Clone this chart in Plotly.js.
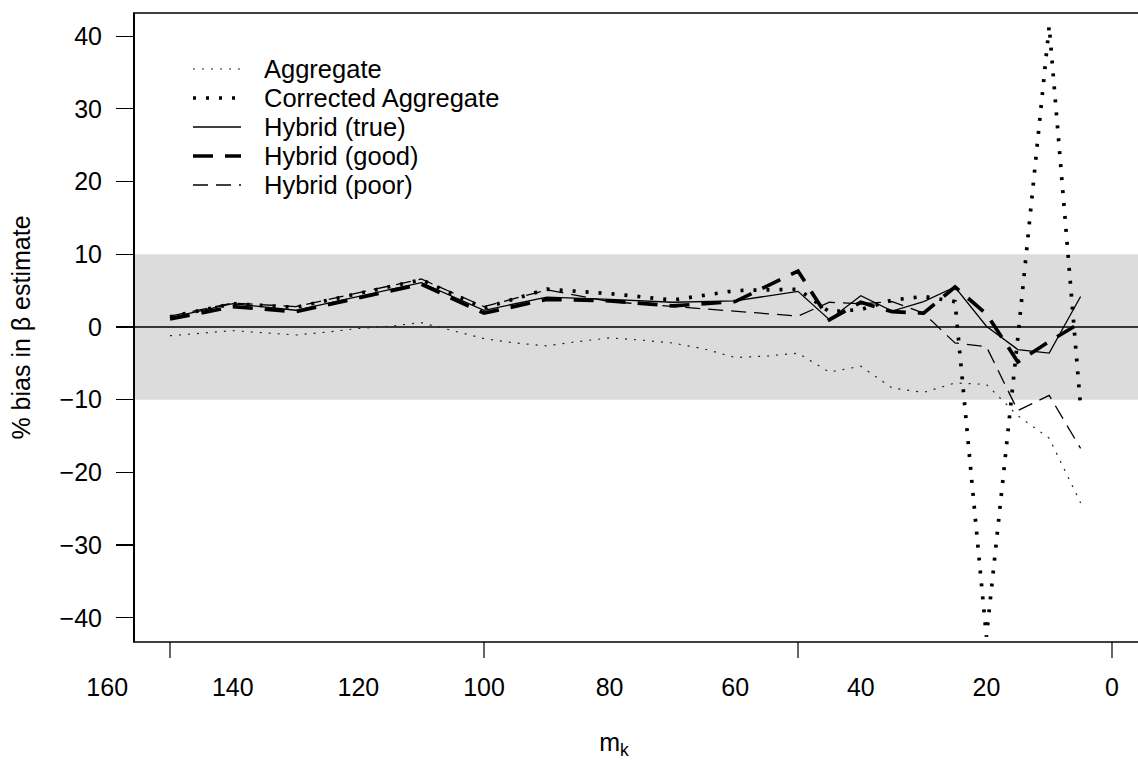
<!DOCTYPE html>
<html>
<head>
<meta charset="utf-8">
<script src="https://cdn.plot.ly/plotly-3.0.1.min.js"></script>
<style>html,body{margin:0;padding:0;background:#fff;}#chart{width:1138px;height:764px;}</style>
</head>
<body>
<div id="chart"></div>
<script>
// ---- data ----
const mk = [150,140,130,120,110,100,90,80,70,60,50,45,40,35,30,25,20,15,10,5];
const aggMk = [150,145,140,135,130,125,120,115,110,105,100,95,90,85,80,75,70,65,60,55,50,45,40,35,30,25,20,15,10,5];
const aggregate = [-1.2,-0.8,-0.5,-0.8,-1.1,-0.7,-0.2,0.1,0.6,-0.5,-1.6,-2.2,-2.6,-2.0,-1.5,-1.8,-2.2,-3.0,-4.2,-4.0,-3.6,-6.2,-5.4,-8.4,-9.0,-7.7,-7.9,-12.2,-15.3,-24.2];
const correctedAggregate = [1.4,3.2,2.7,4.6,6.5,2.6,5.2,4.6,3.7,5.0,5.2,2.1,2.4,3.7,4.2,3.5,-42.6,-1.5,41.4,-11.0];
const hybridTrue = [1.3,3.2,2.3,4.2,6.1,2.3,4.1,3.8,3.4,3.6,4.9,1.0,4.3,2.2,3.5,5.5,0.1,-3.1,-3.6,4.2];
const hybridGood = [1.1,2.8,2.1,4.0,5.9,1.9,3.8,3.6,2.9,3.5,7.7,1.0,3.4,2.1,1.9,5.5,1.8,-4.8,-2.0,0.6];
const hybridPoor = [1.5,3.3,2.8,4.7,6.6,2.8,5.1,3.5,2.8,2.2,1.5,3.4,3.2,3.5,1.9,-2.2,-2.7,-11.5,-9.4,-16.7];
const seriesNames = ["Aggregate","Corrected Aggregate","Hybrid (true)","Hybrid (good)","Hybrid (poor)"];
const yTicks = [-40,-30,-20,-10,0,10,20,30,40];
const xTickMarks = [150,100,50,0];
const xTickLabels = [160,140,120,100,80,60,40,20,0];
const bandLow = -10, bandHigh = 10;

// ---- styling / layout constants ----
const FONT = "Liberation Sans, Arial, Helvetica, sans-serif";
const FS = 25;
const W = 1138, H = 764;
const M = {l: 90, r: 0, t: 13, b: 122};
const plotW = W - M.l - M.r, plotH = H - M.t - M.b;
const px2x = p => (p - M.l) / plotW;      // page px -> paper x
const py2y = p => (H - M.b - p) / plotH;  // page px -> paper y
const plotLeft = px2x(133);

const styles = [
  {color: "#222", width: 1.2, dash: "2px,7px"},
  {color: "#000", width: 3.7, dash: "3px,10px"},
  {color: "#000", width: 1.3},
  {color: "#000", width: 3.7, dash: "20px,12px"},
  {color: "#000", width: 1.3, dash: "15px,8px"}
];
const xs = [aggMk, mk, mk, mk, mk];
const ys = [aggregate, correctedAggregate, hybridTrue, hybridGood, hybridPoor];

const traces = ys.map((y, i) => ({
  type: "scatter", mode: "lines", x: xs[i], y: y, name: seriesNames[i],
  line: styles[i], hoverinfo: "skip", showlegend: false
}));

// legend drawn in the R style (sample line + label)
const legShapes = [], legAnn = [];
seriesNames.forEach((nm, i) => {
  const yy = py2y(69 + i * 29);
  legShapes.push({type: "line", xref: "paper", yref: "paper",
    x0: px2x(193), x1: px2x(241), y0: yy, y1: yy, line: styles[i]});
  legAnn.push({xref: "paper", yref: "paper", x: px2x(262), y: yy, text: nm,
    showarrow: false, xanchor: "left", yanchor: "middle",
    font: {family: FONT, size: 25.5, color: "#000"}});
});

const tickShapes = xTickMarks.map(v => ({type: "line", xref: "x", yref: "paper",
  ysizemode: "pixel", yanchor: 0, x0: v, x1: v, y0: 0, y1: -16,
  line: {color: "#000", width: 1.2}}));

const layout = {
  width: W, height: H, margin: M,
  paper_bgcolor: "#fff", plot_bgcolor: "rgba(0,0,0,0)",
  font: {family: FONT, size: FS, color: "#000"},
  showlegend: false,
  xaxis: {domain: [0, 1], range: [162.74, -4.14],
          showline: false, showgrid: false, zeroline: false,
          tickmode: "array", tickvals: xTickLabels, ticktext: xTickLabels.map(String),
          ticks: "outside", ticklen: 23, tickcolor: "rgba(0,0,0,0)",
          tickfont: {family: FONT, size: FS},
          title: {text: "m<sub>k</sub>", font: {family: FONT, size: FS}, standoff: 33}},
  yaxis: {domain: [0, 1], range: [-43.33, 43.19], anchor: "free", position: plotLeft,
          showline: true, linecolor: "#000", linewidth: 1.5,
          tickmode: "array", tickvals: yTicks, ticks: "outside", ticklen: 17, tickwidth: 1.2, tickcolor: "#000",
          ticklabelstandoff: 9,
          showgrid: false, zeroline: false, tickfont: {family: FONT, size: FS},
          title: {text: "% bias in β estimate", font: {family: FONT, size: FS}, standoff: 20}},
  shapes: [
    {type: "rect", xref: "paper", yref: "y", x0: plotLeft, x1: 1, y0: bandLow, y1: bandHigh,
     fillcolor: "#dcdcdc", line: {width: 0}, layer: "below"},
    {type: "line", xref: "paper", yref: "y", x0: plotLeft, x1: 1, y0: 0, y1: 0,
     line: {color: "#000", width: 1.3}, layer: "below"},
    {type: "line", xref: "paper", yref: "paper", x0: plotLeft, x1: 1, y0: 1, y1: 1,
     line: {color: "#000", width: 1.5}},
    {type: "line", xref: "paper", yref: "paper", x0: plotLeft, x1: 1, y0: 0, y1: 0,
     line: {color: "#000", width: 1.5}}
  ].concat(tickShapes, legShapes),
  annotations: legAnn
};

Plotly.newPlot("chart", traces, layout, {staticPlot: true, displayModeBar: false});
</script>
</body>
</html>
